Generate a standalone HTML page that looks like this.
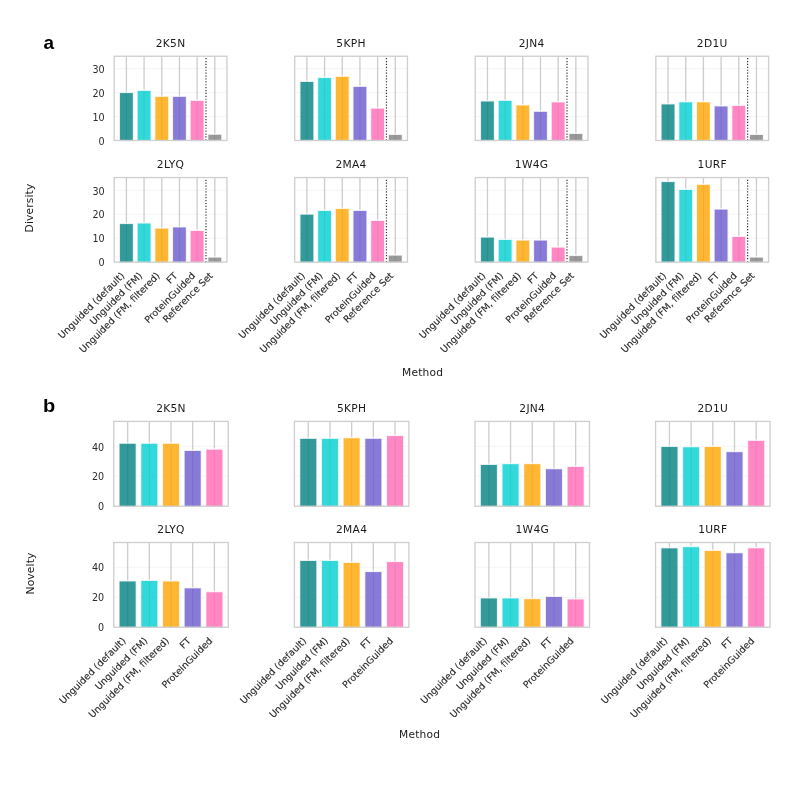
<!DOCTYPE html>
<html lang="en">
<head>
<meta charset="utf-8">
<title>Diversity and Novelty by Method</title>
<style>
html, body { margin: 0; padding: 0; background: #ffffff; }
body { width: 793px; height: 793px; overflow: hidden; }
svg { display: block; font-family: "DejaVu Sans", "Liberation Sans", sans-serif; }
</style>
</head>
<body>
<svg width="793" height="793" viewBox="0 0 793 793">
<rect x="0" y="0" width="793" height="793" fill="#ffffff"/>
<g><line x1="114.20" x2="226.95" y1="116.55" y2="116.55" stroke="#f5f5f5" stroke-width="1"/>
<line x1="114.20" x2="226.95" y1="92.65" y2="92.65" stroke="#f5f5f5" stroke-width="1"/>
<line x1="114.20" x2="226.95" y1="68.75" y2="68.75" stroke="#f5f5f5" stroke-width="1"/>
<line x1="126.40" x2="126.40" y1="56.25" y2="140.45" stroke="#cdcdcd" stroke-width="1.33"/>
<line x1="144.08" x2="144.08" y1="56.25" y2="140.45" stroke="#cdcdcd" stroke-width="1.33"/>
<line x1="161.76" x2="161.76" y1="56.25" y2="140.45" stroke="#cdcdcd" stroke-width="1.33"/>
<line x1="179.44" x2="179.44" y1="56.25" y2="140.45" stroke="#cdcdcd" stroke-width="1.33"/>
<line x1="197.12" x2="197.12" y1="56.25" y2="140.45" stroke="#cdcdcd" stroke-width="1.33"/>
<line x1="214.80" x2="214.80" y1="56.25" y2="140.45" stroke="#cdcdcd" stroke-width="1.33"/>
<rect x="119.33" y="92.40" width="14.14" height="48.75" fill="#008080" fill-opacity="0.8" stroke="#fff" stroke-opacity="0.8" stroke-width="1.4"/>
<rect x="137.01" y="90.30" width="14.14" height="50.85" fill="#00CED1" fill-opacity="0.8" stroke="#fff" stroke-opacity="0.8" stroke-width="1.4"/>
<rect x="154.69" y="96.20" width="14.14" height="44.95" fill="#FFA500" fill-opacity="0.8" stroke="#fff" stroke-opacity="0.8" stroke-width="1.4"/>
<rect x="172.37" y="96.20" width="14.14" height="44.95" fill="#6A5ACD" fill-opacity="0.8" stroke="#fff" stroke-opacity="0.8" stroke-width="1.4"/>
<rect x="190.05" y="100.20" width="14.14" height="40.95" fill="#FF69B4" fill-opacity="0.8" stroke="#fff" stroke-opacity="0.8" stroke-width="1.4"/>
<rect x="207.73" y="134.10" width="14.14" height="7.05" fill="#808080" fill-opacity="0.8" stroke="#fff" stroke-opacity="0.8" stroke-width="1.4"/>
<line x1="205.96" x2="205.96" y1="140.45" y2="56.25" stroke="#000" stroke-opacity="0.8" stroke-width="1.2" stroke-dasharray="1.2 1.7"/>
<rect x="114.20" y="56.25" width="112.75" height="84.20" fill="none" stroke="#cfcfcf" stroke-width="1.33"/>
<text x="170.57" y="46.65" text-anchor="middle" letter-spacing="0.3" font-size="10.67" fill="#1a1a1a">2K5N</text>
<text x="104.60" y="144.60" text-anchor="end" font-size="9.6" fill="#2b2b2b">0</text>
<text x="104.60" y="120.70" text-anchor="end" font-size="9.6" fill="#2b2b2b">10</text>
<text x="104.60" y="96.80" text-anchor="end" font-size="9.6" fill="#2b2b2b">20</text>
<text x="104.60" y="72.90" text-anchor="end" font-size="9.6" fill="#2b2b2b">30</text></g>
<g><line x1="294.70" x2="407.45" y1="116.55" y2="116.55" stroke="#f5f5f5" stroke-width="1"/>
<line x1="294.70" x2="407.45" y1="92.65" y2="92.65" stroke="#f5f5f5" stroke-width="1"/>
<line x1="294.70" x2="407.45" y1="68.75" y2="68.75" stroke="#f5f5f5" stroke-width="1"/>
<line x1="306.90" x2="306.90" y1="56.25" y2="140.45" stroke="#cdcdcd" stroke-width="1.33"/>
<line x1="324.58" x2="324.58" y1="56.25" y2="140.45" stroke="#cdcdcd" stroke-width="1.33"/>
<line x1="342.26" x2="342.26" y1="56.25" y2="140.45" stroke="#cdcdcd" stroke-width="1.33"/>
<line x1="359.94" x2="359.94" y1="56.25" y2="140.45" stroke="#cdcdcd" stroke-width="1.33"/>
<line x1="377.62" x2="377.62" y1="56.25" y2="140.45" stroke="#cdcdcd" stroke-width="1.33"/>
<line x1="395.30" x2="395.30" y1="56.25" y2="140.45" stroke="#cdcdcd" stroke-width="1.33"/>
<rect x="299.83" y="81.30" width="14.14" height="59.85" fill="#008080" fill-opacity="0.8" stroke="#fff" stroke-opacity="0.8" stroke-width="1.4"/>
<rect x="317.51" y="77.35" width="14.14" height="63.80" fill="#00CED1" fill-opacity="0.8" stroke="#fff" stroke-opacity="0.8" stroke-width="1.4"/>
<rect x="335.19" y="76.20" width="14.14" height="64.95" fill="#FFA500" fill-opacity="0.8" stroke="#fff" stroke-opacity="0.8" stroke-width="1.4"/>
<rect x="352.87" y="86.27" width="14.14" height="54.88" fill="#6A5ACD" fill-opacity="0.8" stroke="#fff" stroke-opacity="0.8" stroke-width="1.4"/>
<rect x="370.55" y="108.00" width="14.14" height="33.15" fill="#FF69B4" fill-opacity="0.8" stroke="#fff" stroke-opacity="0.8" stroke-width="1.4"/>
<rect x="388.23" y="134.30" width="14.14" height="6.85" fill="#808080" fill-opacity="0.8" stroke="#fff" stroke-opacity="0.8" stroke-width="1.4"/>
<line x1="386.46" x2="386.46" y1="140.45" y2="56.25" stroke="#000" stroke-opacity="0.8" stroke-width="1.2" stroke-dasharray="1.2 1.7"/>
<rect x="294.70" y="56.25" width="112.75" height="84.20" fill="none" stroke="#cfcfcf" stroke-width="1.33"/>
<text x="351.07" y="46.65" text-anchor="middle" letter-spacing="0.3" font-size="10.67" fill="#1a1a1a">5KPH</text></g>
<g><line x1="475.25" x2="588.00" y1="116.55" y2="116.55" stroke="#f5f5f5" stroke-width="1"/>
<line x1="475.25" x2="588.00" y1="92.65" y2="92.65" stroke="#f5f5f5" stroke-width="1"/>
<line x1="475.25" x2="588.00" y1="68.75" y2="68.75" stroke="#f5f5f5" stroke-width="1"/>
<line x1="487.45" x2="487.45" y1="56.25" y2="140.45" stroke="#cdcdcd" stroke-width="1.33"/>
<line x1="505.13" x2="505.13" y1="56.25" y2="140.45" stroke="#cdcdcd" stroke-width="1.33"/>
<line x1="522.81" x2="522.81" y1="56.25" y2="140.45" stroke="#cdcdcd" stroke-width="1.33"/>
<line x1="540.49" x2="540.49" y1="56.25" y2="140.45" stroke="#cdcdcd" stroke-width="1.33"/>
<line x1="558.17" x2="558.17" y1="56.25" y2="140.45" stroke="#cdcdcd" stroke-width="1.33"/>
<line x1="575.85" x2="575.85" y1="56.25" y2="140.45" stroke="#cdcdcd" stroke-width="1.33"/>
<rect x="480.38" y="100.86" width="14.14" height="40.29" fill="#008080" fill-opacity="0.8" stroke="#fff" stroke-opacity="0.8" stroke-width="1.4"/>
<rect x="498.06" y="100.20" width="14.14" height="40.95" fill="#00CED1" fill-opacity="0.8" stroke="#fff" stroke-opacity="0.8" stroke-width="1.4"/>
<rect x="515.74" y="104.80" width="14.14" height="36.35" fill="#FFA500" fill-opacity="0.8" stroke="#fff" stroke-opacity="0.8" stroke-width="1.4"/>
<rect x="533.42" y="111.20" width="14.14" height="29.95" fill="#6A5ACD" fill-opacity="0.8" stroke="#fff" stroke-opacity="0.8" stroke-width="1.4"/>
<rect x="551.10" y="101.80" width="14.14" height="39.35" fill="#FF69B4" fill-opacity="0.8" stroke="#fff" stroke-opacity="0.8" stroke-width="1.4"/>
<rect x="568.78" y="133.30" width="14.14" height="7.85" fill="#808080" fill-opacity="0.8" stroke="#fff" stroke-opacity="0.8" stroke-width="1.4"/>
<line x1="567.01" x2="567.01" y1="140.45" y2="56.25" stroke="#000" stroke-opacity="0.8" stroke-width="1.2" stroke-dasharray="1.2 1.7"/>
<rect x="475.25" y="56.25" width="112.75" height="84.20" fill="none" stroke="#cfcfcf" stroke-width="1.33"/>
<text x="531.62" y="46.65" text-anchor="middle" letter-spacing="0.3" font-size="10.67" fill="#1a1a1a">2JN4</text></g>
<g><line x1="655.85" x2="768.60" y1="116.55" y2="116.55" stroke="#f5f5f5" stroke-width="1"/>
<line x1="655.85" x2="768.60" y1="92.65" y2="92.65" stroke="#f5f5f5" stroke-width="1"/>
<line x1="655.85" x2="768.60" y1="68.75" y2="68.75" stroke="#f5f5f5" stroke-width="1"/>
<line x1="668.05" x2="668.05" y1="56.25" y2="140.45" stroke="#cdcdcd" stroke-width="1.33"/>
<line x1="685.73" x2="685.73" y1="56.25" y2="140.45" stroke="#cdcdcd" stroke-width="1.33"/>
<line x1="703.41" x2="703.41" y1="56.25" y2="140.45" stroke="#cdcdcd" stroke-width="1.33"/>
<line x1="721.09" x2="721.09" y1="56.25" y2="140.45" stroke="#cdcdcd" stroke-width="1.33"/>
<line x1="738.77" x2="738.77" y1="56.25" y2="140.45" stroke="#cdcdcd" stroke-width="1.33"/>
<line x1="756.45" x2="756.45" y1="56.25" y2="140.45" stroke="#cdcdcd" stroke-width="1.33"/>
<rect x="660.98" y="103.80" width="14.14" height="37.35" fill="#008080" fill-opacity="0.8" stroke="#fff" stroke-opacity="0.8" stroke-width="1.4"/>
<rect x="678.66" y="101.70" width="14.14" height="39.45" fill="#00CED1" fill-opacity="0.8" stroke="#fff" stroke-opacity="0.8" stroke-width="1.4"/>
<rect x="696.34" y="101.70" width="14.14" height="39.45" fill="#FFA500" fill-opacity="0.8" stroke="#fff" stroke-opacity="0.8" stroke-width="1.4"/>
<rect x="714.02" y="105.80" width="14.14" height="35.35" fill="#6A5ACD" fill-opacity="0.8" stroke="#fff" stroke-opacity="0.8" stroke-width="1.4"/>
<rect x="731.70" y="105.30" width="14.14" height="35.85" fill="#FF69B4" fill-opacity="0.8" stroke="#fff" stroke-opacity="0.8" stroke-width="1.4"/>
<rect x="749.38" y="134.30" width="14.14" height="6.85" fill="#808080" fill-opacity="0.8" stroke="#fff" stroke-opacity="0.8" stroke-width="1.4"/>
<line x1="747.61" x2="747.61" y1="140.45" y2="56.25" stroke="#000" stroke-opacity="0.8" stroke-width="1.2" stroke-dasharray="1.2 1.7"/>
<rect x="655.85" y="56.25" width="112.75" height="84.20" fill="none" stroke="#cfcfcf" stroke-width="1.33"/>
<text x="712.23" y="46.65" text-anchor="middle" letter-spacing="0.3" font-size="10.67" fill="#1a1a1a">2D1U</text></g>
<g><line x1="114.20" x2="226.95" y1="238.20" y2="238.20" stroke="#f5f5f5" stroke-width="1"/>
<line x1="114.20" x2="226.95" y1="214.30" y2="214.30" stroke="#f5f5f5" stroke-width="1"/>
<line x1="114.20" x2="226.95" y1="190.40" y2="190.40" stroke="#f5f5f5" stroke-width="1"/>
<line x1="126.40" x2="126.40" y1="177.55" y2="262.10" stroke="#cdcdcd" stroke-width="1.33"/>
<line x1="144.08" x2="144.08" y1="177.55" y2="262.10" stroke="#cdcdcd" stroke-width="1.33"/>
<line x1="161.76" x2="161.76" y1="177.55" y2="262.10" stroke="#cdcdcd" stroke-width="1.33"/>
<line x1="179.44" x2="179.44" y1="177.55" y2="262.10" stroke="#cdcdcd" stroke-width="1.33"/>
<line x1="197.12" x2="197.12" y1="177.55" y2="262.10" stroke="#cdcdcd" stroke-width="1.33"/>
<line x1="214.80" x2="214.80" y1="177.55" y2="262.10" stroke="#cdcdcd" stroke-width="1.33"/>
<rect x="119.33" y="223.40" width="14.14" height="39.40" fill="#008080" fill-opacity="0.8" stroke="#fff" stroke-opacity="0.8" stroke-width="1.4"/>
<rect x="137.01" y="222.90" width="14.14" height="39.90" fill="#00CED1" fill-opacity="0.8" stroke="#fff" stroke-opacity="0.8" stroke-width="1.4"/>
<rect x="154.69" y="228.00" width="14.14" height="34.80" fill="#FFA500" fill-opacity="0.8" stroke="#fff" stroke-opacity="0.8" stroke-width="1.4"/>
<rect x="172.37" y="226.80" width="14.14" height="36.00" fill="#6A5ACD" fill-opacity="0.8" stroke="#fff" stroke-opacity="0.8" stroke-width="1.4"/>
<rect x="190.05" y="230.30" width="14.14" height="32.50" fill="#FF69B4" fill-opacity="0.8" stroke="#fff" stroke-opacity="0.8" stroke-width="1.4"/>
<rect x="207.73" y="257.00" width="14.14" height="5.80" fill="#808080" fill-opacity="0.8" stroke="#fff" stroke-opacity="0.8" stroke-width="1.4"/>
<line x1="205.96" x2="205.96" y1="262.10" y2="177.55" stroke="#000" stroke-opacity="0.8" stroke-width="1.2" stroke-dasharray="1.2 1.7"/>
<rect x="114.20" y="177.55" width="112.75" height="84.55" fill="none" stroke="#cfcfcf" stroke-width="1.33"/>
<text x="170.57" y="167.95" text-anchor="middle" letter-spacing="0.3" font-size="10.67" fill="#1a1a1a">2LYQ</text>
<text x="104.60" y="266.25" text-anchor="end" font-size="9.6" fill="#2b2b2b">0</text>
<text x="104.60" y="242.35" text-anchor="end" font-size="9.6" fill="#2b2b2b">10</text>
<text x="104.60" y="218.45" text-anchor="end" font-size="9.6" fill="#2b2b2b">20</text>
<text x="104.60" y="194.55" text-anchor="end" font-size="9.6" fill="#2b2b2b">30</text>
<text transform="translate(125.10 276.30) rotate(-45)" text-anchor="end" font-size="9.47" fill="#2b2b2b" stroke="#2b2b2b" stroke-width="0.12">Unguided (default)</text>
<text transform="translate(142.78 276.30) rotate(-45)" text-anchor="end" font-size="9.47" fill="#2b2b2b" stroke="#2b2b2b" stroke-width="0.12">Unguided (FM)</text>
<text transform="translate(160.46 276.30) rotate(-45)" text-anchor="end" font-size="9.47" fill="#2b2b2b" stroke="#2b2b2b" stroke-width="0.12">Unguided (FM, filtered)</text>
<text transform="translate(178.14 276.30) rotate(-45)" text-anchor="end" font-size="9.47" fill="#2b2b2b" stroke="#2b2b2b" stroke-width="0.12">FT</text>
<text transform="translate(195.82 276.30) rotate(-45)" text-anchor="end" font-size="9.47" fill="#2b2b2b" stroke="#2b2b2b" stroke-width="0.12">ProteinGuided</text>
<text transform="translate(213.50 276.30) rotate(-45)" text-anchor="end" font-size="9.47" fill="#2b2b2b" stroke="#2b2b2b" stroke-width="0.12">Reference Set</text></g>
<g><line x1="294.70" x2="407.45" y1="238.20" y2="238.20" stroke="#f5f5f5" stroke-width="1"/>
<line x1="294.70" x2="407.45" y1="214.30" y2="214.30" stroke="#f5f5f5" stroke-width="1"/>
<line x1="294.70" x2="407.45" y1="190.40" y2="190.40" stroke="#f5f5f5" stroke-width="1"/>
<line x1="306.90" x2="306.90" y1="177.55" y2="262.10" stroke="#cdcdcd" stroke-width="1.33"/>
<line x1="324.58" x2="324.58" y1="177.55" y2="262.10" stroke="#cdcdcd" stroke-width="1.33"/>
<line x1="342.26" x2="342.26" y1="177.55" y2="262.10" stroke="#cdcdcd" stroke-width="1.33"/>
<line x1="359.94" x2="359.94" y1="177.55" y2="262.10" stroke="#cdcdcd" stroke-width="1.33"/>
<line x1="377.62" x2="377.62" y1="177.55" y2="262.10" stroke="#cdcdcd" stroke-width="1.33"/>
<line x1="395.30" x2="395.30" y1="177.55" y2="262.10" stroke="#cdcdcd" stroke-width="1.33"/>
<rect x="299.83" y="214.05" width="14.14" height="48.75" fill="#008080" fill-opacity="0.8" stroke="#fff" stroke-opacity="0.8" stroke-width="1.4"/>
<rect x="317.51" y="210.30" width="14.14" height="52.50" fill="#00CED1" fill-opacity="0.8" stroke="#fff" stroke-opacity="0.8" stroke-width="1.4"/>
<rect x="335.19" y="208.30" width="14.14" height="54.50" fill="#FFA500" fill-opacity="0.8" stroke="#fff" stroke-opacity="0.8" stroke-width="1.4"/>
<rect x="352.87" y="210.30" width="14.14" height="52.50" fill="#6A5ACD" fill-opacity="0.8" stroke="#fff" stroke-opacity="0.8" stroke-width="1.4"/>
<rect x="370.55" y="220.30" width="14.14" height="42.50" fill="#FF69B4" fill-opacity="0.8" stroke="#fff" stroke-opacity="0.8" stroke-width="1.4"/>
<rect x="388.23" y="255.00" width="14.14" height="7.80" fill="#808080" fill-opacity="0.8" stroke="#fff" stroke-opacity="0.8" stroke-width="1.4"/>
<line x1="386.46" x2="386.46" y1="262.10" y2="177.55" stroke="#000" stroke-opacity="0.8" stroke-width="1.2" stroke-dasharray="1.2 1.7"/>
<rect x="294.70" y="177.55" width="112.75" height="84.55" fill="none" stroke="#cfcfcf" stroke-width="1.33"/>
<text x="351.07" y="167.95" text-anchor="middle" letter-spacing="0.3" font-size="10.67" fill="#1a1a1a">2MA4</text>
<text transform="translate(305.60 276.30) rotate(-45)" text-anchor="end" font-size="9.47" fill="#2b2b2b" stroke="#2b2b2b" stroke-width="0.12">Unguided (default)</text>
<text transform="translate(323.28 276.30) rotate(-45)" text-anchor="end" font-size="9.47" fill="#2b2b2b" stroke="#2b2b2b" stroke-width="0.12">Unguided (FM)</text>
<text transform="translate(340.96 276.30) rotate(-45)" text-anchor="end" font-size="9.47" fill="#2b2b2b" stroke="#2b2b2b" stroke-width="0.12">Unguided (FM, filtered)</text>
<text transform="translate(358.64 276.30) rotate(-45)" text-anchor="end" font-size="9.47" fill="#2b2b2b" stroke="#2b2b2b" stroke-width="0.12">FT</text>
<text transform="translate(376.32 276.30) rotate(-45)" text-anchor="end" font-size="9.47" fill="#2b2b2b" stroke="#2b2b2b" stroke-width="0.12">ProteinGuided</text>
<text transform="translate(394.00 276.30) rotate(-45)" text-anchor="end" font-size="9.47" fill="#2b2b2b" stroke="#2b2b2b" stroke-width="0.12">Reference Set</text></g>
<g><line x1="475.25" x2="588.00" y1="238.20" y2="238.20" stroke="#f5f5f5" stroke-width="1"/>
<line x1="475.25" x2="588.00" y1="214.30" y2="214.30" stroke="#f5f5f5" stroke-width="1"/>
<line x1="475.25" x2="588.00" y1="190.40" y2="190.40" stroke="#f5f5f5" stroke-width="1"/>
<line x1="487.45" x2="487.45" y1="177.55" y2="262.10" stroke="#cdcdcd" stroke-width="1.33"/>
<line x1="505.13" x2="505.13" y1="177.55" y2="262.10" stroke="#cdcdcd" stroke-width="1.33"/>
<line x1="522.81" x2="522.81" y1="177.55" y2="262.10" stroke="#cdcdcd" stroke-width="1.33"/>
<line x1="540.49" x2="540.49" y1="177.55" y2="262.10" stroke="#cdcdcd" stroke-width="1.33"/>
<line x1="558.17" x2="558.17" y1="177.55" y2="262.10" stroke="#cdcdcd" stroke-width="1.33"/>
<line x1="575.85" x2="575.85" y1="177.55" y2="262.10" stroke="#cdcdcd" stroke-width="1.33"/>
<rect x="480.38" y="237.00" width="14.14" height="25.80" fill="#008080" fill-opacity="0.8" stroke="#fff" stroke-opacity="0.8" stroke-width="1.4"/>
<rect x="498.06" y="239.30" width="14.14" height="23.50" fill="#00CED1" fill-opacity="0.8" stroke="#fff" stroke-opacity="0.8" stroke-width="1.4"/>
<rect x="515.74" y="239.96" width="14.14" height="22.84" fill="#FFA500" fill-opacity="0.8" stroke="#fff" stroke-opacity="0.8" stroke-width="1.4"/>
<rect x="533.42" y="239.96" width="14.14" height="22.84" fill="#6A5ACD" fill-opacity="0.8" stroke="#fff" stroke-opacity="0.8" stroke-width="1.4"/>
<rect x="551.10" y="247.00" width="14.14" height="15.80" fill="#FF69B4" fill-opacity="0.8" stroke="#fff" stroke-opacity="0.8" stroke-width="1.4"/>
<rect x="568.78" y="255.37" width="14.14" height="7.43" fill="#808080" fill-opacity="0.8" stroke="#fff" stroke-opacity="0.8" stroke-width="1.4"/>
<line x1="567.01" x2="567.01" y1="262.10" y2="177.55" stroke="#000" stroke-opacity="0.8" stroke-width="1.2" stroke-dasharray="1.2 1.7"/>
<rect x="475.25" y="177.55" width="112.75" height="84.55" fill="none" stroke="#cfcfcf" stroke-width="1.33"/>
<text x="531.62" y="167.95" text-anchor="middle" letter-spacing="0.3" font-size="10.67" fill="#1a1a1a">1W4G</text>
<text transform="translate(486.15 276.30) rotate(-45)" text-anchor="end" font-size="9.47" fill="#2b2b2b" stroke="#2b2b2b" stroke-width="0.12">Unguided (default)</text>
<text transform="translate(503.83 276.30) rotate(-45)" text-anchor="end" font-size="9.47" fill="#2b2b2b" stroke="#2b2b2b" stroke-width="0.12">Unguided (FM)</text>
<text transform="translate(521.51 276.30) rotate(-45)" text-anchor="end" font-size="9.47" fill="#2b2b2b" stroke="#2b2b2b" stroke-width="0.12">Unguided (FM, filtered)</text>
<text transform="translate(539.19 276.30) rotate(-45)" text-anchor="end" font-size="9.47" fill="#2b2b2b" stroke="#2b2b2b" stroke-width="0.12">FT</text>
<text transform="translate(556.87 276.30) rotate(-45)" text-anchor="end" font-size="9.47" fill="#2b2b2b" stroke="#2b2b2b" stroke-width="0.12">ProteinGuided</text>
<text transform="translate(574.55 276.30) rotate(-45)" text-anchor="end" font-size="9.47" fill="#2b2b2b" stroke="#2b2b2b" stroke-width="0.12">Reference Set</text></g>
<g><line x1="655.85" x2="768.60" y1="238.20" y2="238.20" stroke="#f5f5f5" stroke-width="1"/>
<line x1="655.85" x2="768.60" y1="214.30" y2="214.30" stroke="#f5f5f5" stroke-width="1"/>
<line x1="655.85" x2="768.60" y1="190.40" y2="190.40" stroke="#f5f5f5" stroke-width="1"/>
<line x1="668.05" x2="668.05" y1="177.55" y2="262.10" stroke="#cdcdcd" stroke-width="1.33"/>
<line x1="685.73" x2="685.73" y1="177.55" y2="262.10" stroke="#cdcdcd" stroke-width="1.33"/>
<line x1="703.41" x2="703.41" y1="177.55" y2="262.10" stroke="#cdcdcd" stroke-width="1.33"/>
<line x1="721.09" x2="721.09" y1="177.55" y2="262.10" stroke="#cdcdcd" stroke-width="1.33"/>
<line x1="738.77" x2="738.77" y1="177.55" y2="262.10" stroke="#cdcdcd" stroke-width="1.33"/>
<line x1="756.45" x2="756.45" y1="177.55" y2="262.10" stroke="#cdcdcd" stroke-width="1.33"/>
<rect x="660.98" y="181.40" width="14.14" height="81.40" fill="#008080" fill-opacity="0.8" stroke="#fff" stroke-opacity="0.8" stroke-width="1.4"/>
<rect x="678.66" y="189.30" width="14.14" height="73.50" fill="#00CED1" fill-opacity="0.8" stroke="#fff" stroke-opacity="0.8" stroke-width="1.4"/>
<rect x="696.34" y="184.20" width="14.14" height="78.60" fill="#FFA500" fill-opacity="0.8" stroke="#fff" stroke-opacity="0.8" stroke-width="1.4"/>
<rect x="714.02" y="209.00" width="14.14" height="53.80" fill="#6A5ACD" fill-opacity="0.8" stroke="#fff" stroke-opacity="0.8" stroke-width="1.4"/>
<rect x="731.70" y="236.30" width="14.14" height="26.50" fill="#FF69B4" fill-opacity="0.8" stroke="#fff" stroke-opacity="0.8" stroke-width="1.4"/>
<rect x="749.38" y="257.00" width="14.14" height="5.80" fill="#808080" fill-opacity="0.8" stroke="#fff" stroke-opacity="0.8" stroke-width="1.4"/>
<line x1="747.61" x2="747.61" y1="262.10" y2="177.55" stroke="#000" stroke-opacity="0.8" stroke-width="1.2" stroke-dasharray="1.2 1.7"/>
<rect x="655.85" y="177.55" width="112.75" height="84.55" fill="none" stroke="#cfcfcf" stroke-width="1.33"/>
<text x="712.23" y="167.95" text-anchor="middle" letter-spacing="0.3" font-size="10.67" fill="#1a1a1a">1URF</text>
<text transform="translate(666.75 276.30) rotate(-45)" text-anchor="end" font-size="9.47" fill="#2b2b2b" stroke="#2b2b2b" stroke-width="0.12">Unguided (default)</text>
<text transform="translate(684.43 276.30) rotate(-45)" text-anchor="end" font-size="9.47" fill="#2b2b2b" stroke="#2b2b2b" stroke-width="0.12">Unguided (FM)</text>
<text transform="translate(702.11 276.30) rotate(-45)" text-anchor="end" font-size="9.47" fill="#2b2b2b" stroke="#2b2b2b" stroke-width="0.12">Unguided (FM, filtered)</text>
<text transform="translate(719.79 276.30) rotate(-45)" text-anchor="end" font-size="9.47" fill="#2b2b2b" stroke="#2b2b2b" stroke-width="0.12">FT</text>
<text transform="translate(737.47 276.30) rotate(-45)" text-anchor="end" font-size="9.47" fill="#2b2b2b" stroke="#2b2b2b" stroke-width="0.12">ProteinGuided</text>
<text transform="translate(755.15 276.30) rotate(-45)" text-anchor="end" font-size="9.47" fill="#2b2b2b" stroke="#2b2b2b" stroke-width="0.12">Reference Set</text></g>
<text transform="translate(33.3 208.0) rotate(-90)" text-anchor="middle" letter-spacing="0.15" font-size="10.67" fill="#1a1a1a">Diversity</text>
<text x="422.6" y="376.35" text-anchor="middle" letter-spacing="0.2" font-size="10.67" fill="#1a1a1a">Method</text>
<text transform="translate(43.4 49.0) scale(1.07 1)" font-family='"Liberation Sans", "DejaVu Sans", sans-serif' font-weight="bold" font-size="17.7" fill="#000">a</text>
<g><line x1="113.75" x2="228.25" y1="476.31" y2="476.31" stroke="#f5f5f5" stroke-width="1"/>
<line x1="113.75" x2="228.25" y1="446.37" y2="446.37" stroke="#f5f5f5" stroke-width="1"/>
<line x1="127.63" x2="127.63" y1="421.40" y2="506.25" stroke="#cdcdcd" stroke-width="1.33"/>
<line x1="149.32" x2="149.32" y1="421.40" y2="506.25" stroke="#cdcdcd" stroke-width="1.33"/>
<line x1="171.01" x2="171.01" y1="421.40" y2="506.25" stroke="#cdcdcd" stroke-width="1.33"/>
<line x1="192.70" x2="192.70" y1="421.40" y2="506.25" stroke="#cdcdcd" stroke-width="1.33"/>
<line x1="214.39" x2="214.39" y1="421.40" y2="506.25" stroke="#cdcdcd" stroke-width="1.33"/>
<rect x="118.95" y="443.15" width="17.35" height="63.80" fill="#008080" fill-opacity="0.8" stroke="#fff" stroke-opacity="0.8" stroke-width="1.4"/>
<rect x="140.64" y="443.15" width="17.35" height="63.80" fill="#00CED1" fill-opacity="0.8" stroke="#fff" stroke-opacity="0.8" stroke-width="1.4"/>
<rect x="162.33" y="443.15" width="17.35" height="63.80" fill="#FFA500" fill-opacity="0.8" stroke="#fff" stroke-opacity="0.8" stroke-width="1.4"/>
<rect x="184.02" y="450.30" width="17.35" height="56.65" fill="#6A5ACD" fill-opacity="0.8" stroke="#fff" stroke-opacity="0.8" stroke-width="1.4"/>
<rect x="205.71" y="449.05" width="17.35" height="57.90" fill="#FF69B4" fill-opacity="0.8" stroke="#fff" stroke-opacity="0.8" stroke-width="1.4"/>
<rect x="113.75" y="421.40" width="114.50" height="84.85" fill="none" stroke="#cfcfcf" stroke-width="1.33"/>
<text x="171.00" y="411.80" text-anchor="middle" letter-spacing="0.3" font-size="10.67" fill="#1a1a1a">2K5N</text>
<text x="104.15" y="510.40" text-anchor="end" font-size="9.6" fill="#2b2b2b">0</text>
<text x="104.15" y="480.46" text-anchor="end" font-size="9.6" fill="#2b2b2b">20</text>
<text x="104.15" y="450.52" text-anchor="end" font-size="9.6" fill="#2b2b2b">40</text></g>
<g><line x1="294.40" x2="408.90" y1="476.31" y2="476.31" stroke="#f5f5f5" stroke-width="1"/>
<line x1="294.40" x2="408.90" y1="446.37" y2="446.37" stroke="#f5f5f5" stroke-width="1"/>
<line x1="308.28" x2="308.28" y1="421.40" y2="506.25" stroke="#cdcdcd" stroke-width="1.33"/>
<line x1="329.97" x2="329.97" y1="421.40" y2="506.25" stroke="#cdcdcd" stroke-width="1.33"/>
<line x1="351.66" x2="351.66" y1="421.40" y2="506.25" stroke="#cdcdcd" stroke-width="1.33"/>
<line x1="373.35" x2="373.35" y1="421.40" y2="506.25" stroke="#cdcdcd" stroke-width="1.33"/>
<line x1="395.04" x2="395.04" y1="421.40" y2="506.25" stroke="#cdcdcd" stroke-width="1.33"/>
<rect x="299.60" y="438.20" width="17.35" height="68.75" fill="#008080" fill-opacity="0.8" stroke="#fff" stroke-opacity="0.8" stroke-width="1.4"/>
<rect x="321.29" y="438.20" width="17.35" height="68.75" fill="#00CED1" fill-opacity="0.8" stroke="#fff" stroke-opacity="0.8" stroke-width="1.4"/>
<rect x="342.98" y="437.60" width="17.35" height="69.35" fill="#FFA500" fill-opacity="0.8" stroke="#fff" stroke-opacity="0.8" stroke-width="1.4"/>
<rect x="364.67" y="438.20" width="17.35" height="68.75" fill="#6A5ACD" fill-opacity="0.8" stroke="#fff" stroke-opacity="0.8" stroke-width="1.4"/>
<rect x="386.36" y="435.40" width="17.35" height="71.55" fill="#FF69B4" fill-opacity="0.8" stroke="#fff" stroke-opacity="0.8" stroke-width="1.4"/>
<rect x="294.40" y="421.40" width="114.50" height="84.85" fill="none" stroke="#cfcfcf" stroke-width="1.33"/>
<text x="351.65" y="411.80" text-anchor="middle" letter-spacing="0.3" font-size="10.67" fill="#1a1a1a">5KPH</text></g>
<g><line x1="475.00" x2="589.50" y1="476.31" y2="476.31" stroke="#f5f5f5" stroke-width="1"/>
<line x1="475.00" x2="589.50" y1="446.37" y2="446.37" stroke="#f5f5f5" stroke-width="1"/>
<line x1="488.88" x2="488.88" y1="421.40" y2="506.25" stroke="#cdcdcd" stroke-width="1.33"/>
<line x1="510.57" x2="510.57" y1="421.40" y2="506.25" stroke="#cdcdcd" stroke-width="1.33"/>
<line x1="532.26" x2="532.26" y1="421.40" y2="506.25" stroke="#cdcdcd" stroke-width="1.33"/>
<line x1="553.95" x2="553.95" y1="421.40" y2="506.25" stroke="#cdcdcd" stroke-width="1.33"/>
<line x1="575.64" x2="575.64" y1="421.40" y2="506.25" stroke="#cdcdcd" stroke-width="1.33"/>
<rect x="480.20" y="464.30" width="17.35" height="42.65" fill="#008080" fill-opacity="0.8" stroke="#fff" stroke-opacity="0.8" stroke-width="1.4"/>
<rect x="501.89" y="463.50" width="17.35" height="43.45" fill="#00CED1" fill-opacity="0.8" stroke="#fff" stroke-opacity="0.8" stroke-width="1.4"/>
<rect x="523.59" y="463.50" width="17.35" height="43.45" fill="#FFA500" fill-opacity="0.8" stroke="#fff" stroke-opacity="0.8" stroke-width="1.4"/>
<rect x="545.28" y="468.60" width="17.35" height="38.35" fill="#6A5ACD" fill-opacity="0.8" stroke="#fff" stroke-opacity="0.8" stroke-width="1.4"/>
<rect x="566.97" y="466.30" width="17.35" height="40.65" fill="#FF69B4" fill-opacity="0.8" stroke="#fff" stroke-opacity="0.8" stroke-width="1.4"/>
<rect x="475.00" y="421.40" width="114.50" height="84.85" fill="none" stroke="#cfcfcf" stroke-width="1.33"/>
<text x="532.25" y="411.80" text-anchor="middle" letter-spacing="0.3" font-size="10.67" fill="#1a1a1a">2JN4</text></g>
<g><line x1="655.55" x2="770.05" y1="476.31" y2="476.31" stroke="#f5f5f5" stroke-width="1"/>
<line x1="655.55" x2="770.05" y1="446.37" y2="446.37" stroke="#f5f5f5" stroke-width="1"/>
<line x1="669.43" x2="669.43" y1="421.40" y2="506.25" stroke="#cdcdcd" stroke-width="1.33"/>
<line x1="691.12" x2="691.12" y1="421.40" y2="506.25" stroke="#cdcdcd" stroke-width="1.33"/>
<line x1="712.81" x2="712.81" y1="421.40" y2="506.25" stroke="#cdcdcd" stroke-width="1.33"/>
<line x1="734.50" x2="734.50" y1="421.40" y2="506.25" stroke="#cdcdcd" stroke-width="1.33"/>
<line x1="756.19" x2="756.19" y1="421.40" y2="506.25" stroke="#cdcdcd" stroke-width="1.33"/>
<rect x="660.75" y="446.30" width="17.35" height="60.65" fill="#008080" fill-opacity="0.8" stroke="#fff" stroke-opacity="0.8" stroke-width="1.4"/>
<rect x="682.45" y="446.60" width="17.35" height="60.35" fill="#00CED1" fill-opacity="0.8" stroke="#fff" stroke-opacity="0.8" stroke-width="1.4"/>
<rect x="704.13" y="446.30" width="17.35" height="60.65" fill="#FFA500" fill-opacity="0.8" stroke="#fff" stroke-opacity="0.8" stroke-width="1.4"/>
<rect x="725.83" y="451.50" width="17.35" height="55.45" fill="#6A5ACD" fill-opacity="0.8" stroke="#fff" stroke-opacity="0.8" stroke-width="1.4"/>
<rect x="747.51" y="440.20" width="17.35" height="66.75" fill="#FF69B4" fill-opacity="0.8" stroke="#fff" stroke-opacity="0.8" stroke-width="1.4"/>
<rect x="655.55" y="421.40" width="114.50" height="84.85" fill="none" stroke="#cfcfcf" stroke-width="1.33"/>
<text x="712.80" y="411.80" text-anchor="middle" letter-spacing="0.3" font-size="10.67" fill="#1a1a1a">2D1U</text></g>
<g><line x1="113.75" x2="228.25" y1="597.26" y2="597.26" stroke="#f5f5f5" stroke-width="1"/>
<line x1="113.75" x2="228.25" y1="567.32" y2="567.32" stroke="#f5f5f5" stroke-width="1"/>
<line x1="127.63" x2="127.63" y1="542.50" y2="627.20" stroke="#cdcdcd" stroke-width="1.33"/>
<line x1="149.32" x2="149.32" y1="542.50" y2="627.20" stroke="#cdcdcd" stroke-width="1.33"/>
<line x1="171.01" x2="171.01" y1="542.50" y2="627.20" stroke="#cdcdcd" stroke-width="1.33"/>
<line x1="192.70" x2="192.70" y1="542.50" y2="627.20" stroke="#cdcdcd" stroke-width="1.33"/>
<line x1="214.39" x2="214.39" y1="542.50" y2="627.20" stroke="#cdcdcd" stroke-width="1.33"/>
<rect x="118.95" y="580.80" width="17.35" height="47.10" fill="#008080" fill-opacity="0.8" stroke="#fff" stroke-opacity="0.8" stroke-width="1.4"/>
<rect x="140.64" y="580.30" width="17.35" height="47.60" fill="#00CED1" fill-opacity="0.8" stroke="#fff" stroke-opacity="0.8" stroke-width="1.4"/>
<rect x="162.33" y="580.80" width="17.35" height="47.10" fill="#FFA500" fill-opacity="0.8" stroke="#fff" stroke-opacity="0.8" stroke-width="1.4"/>
<rect x="184.02" y="587.70" width="17.35" height="40.20" fill="#6A5ACD" fill-opacity="0.8" stroke="#fff" stroke-opacity="0.8" stroke-width="1.4"/>
<rect x="205.71" y="591.60" width="17.35" height="36.30" fill="#FF69B4" fill-opacity="0.8" stroke="#fff" stroke-opacity="0.8" stroke-width="1.4"/>
<rect x="113.75" y="542.50" width="114.50" height="84.70" fill="none" stroke="#cfcfcf" stroke-width="1.33"/>
<text x="171.00" y="532.90" text-anchor="middle" letter-spacing="0.3" font-size="10.67" fill="#1a1a1a">2LYQ</text>
<text x="104.15" y="631.35" text-anchor="end" font-size="9.6" fill="#2b2b2b">0</text>
<text x="104.15" y="601.41" text-anchor="end" font-size="9.6" fill="#2b2b2b">20</text>
<text x="104.15" y="571.47" text-anchor="end" font-size="9.6" fill="#2b2b2b">40</text>
<text transform="translate(126.33 641.40) rotate(-45)" text-anchor="end" font-size="9.47" fill="#2b2b2b" stroke="#2b2b2b" stroke-width="0.12">Unguided (default)</text>
<text transform="translate(148.02 641.40) rotate(-45)" text-anchor="end" font-size="9.47" fill="#2b2b2b" stroke="#2b2b2b" stroke-width="0.12">Unguided (FM)</text>
<text transform="translate(169.71 641.40) rotate(-45)" text-anchor="end" font-size="9.47" fill="#2b2b2b" stroke="#2b2b2b" stroke-width="0.12">Unguided (FM, filtered)</text>
<text transform="translate(191.40 641.40) rotate(-45)" text-anchor="end" font-size="9.47" fill="#2b2b2b" stroke="#2b2b2b" stroke-width="0.12">FT</text>
<text transform="translate(213.09 641.40) rotate(-45)" text-anchor="end" font-size="9.47" fill="#2b2b2b" stroke="#2b2b2b" stroke-width="0.12">ProteinGuided</text></g>
<g><line x1="294.40" x2="408.90" y1="597.26" y2="597.26" stroke="#f5f5f5" stroke-width="1"/>
<line x1="294.40" x2="408.90" y1="567.32" y2="567.32" stroke="#f5f5f5" stroke-width="1"/>
<line x1="308.28" x2="308.28" y1="542.50" y2="627.20" stroke="#cdcdcd" stroke-width="1.33"/>
<line x1="329.97" x2="329.97" y1="542.50" y2="627.20" stroke="#cdcdcd" stroke-width="1.33"/>
<line x1="351.66" x2="351.66" y1="542.50" y2="627.20" stroke="#cdcdcd" stroke-width="1.33"/>
<line x1="373.35" x2="373.35" y1="542.50" y2="627.20" stroke="#cdcdcd" stroke-width="1.33"/>
<line x1="395.04" x2="395.04" y1="542.50" y2="627.20" stroke="#cdcdcd" stroke-width="1.33"/>
<rect x="299.60" y="560.30" width="17.35" height="67.60" fill="#008080" fill-opacity="0.8" stroke="#fff" stroke-opacity="0.8" stroke-width="1.4"/>
<rect x="321.29" y="560.30" width="17.35" height="67.60" fill="#00CED1" fill-opacity="0.8" stroke="#fff" stroke-opacity="0.8" stroke-width="1.4"/>
<rect x="342.98" y="562.30" width="17.35" height="65.60" fill="#FFA500" fill-opacity="0.8" stroke="#fff" stroke-opacity="0.8" stroke-width="1.4"/>
<rect x="364.67" y="571.40" width="17.35" height="56.50" fill="#6A5ACD" fill-opacity="0.8" stroke="#fff" stroke-opacity="0.8" stroke-width="1.4"/>
<rect x="386.36" y="561.40" width="17.35" height="66.50" fill="#FF69B4" fill-opacity="0.8" stroke="#fff" stroke-opacity="0.8" stroke-width="1.4"/>
<rect x="294.40" y="542.50" width="114.50" height="84.70" fill="none" stroke="#cfcfcf" stroke-width="1.33"/>
<text x="351.65" y="532.90" text-anchor="middle" letter-spacing="0.3" font-size="10.67" fill="#1a1a1a">2MA4</text>
<text transform="translate(306.98 641.40) rotate(-45)" text-anchor="end" font-size="9.47" fill="#2b2b2b" stroke="#2b2b2b" stroke-width="0.12">Unguided (default)</text>
<text transform="translate(328.67 641.40) rotate(-45)" text-anchor="end" font-size="9.47" fill="#2b2b2b" stroke="#2b2b2b" stroke-width="0.12">Unguided (FM)</text>
<text transform="translate(350.36 641.40) rotate(-45)" text-anchor="end" font-size="9.47" fill="#2b2b2b" stroke="#2b2b2b" stroke-width="0.12">Unguided (FM, filtered)</text>
<text transform="translate(372.05 641.40) rotate(-45)" text-anchor="end" font-size="9.47" fill="#2b2b2b" stroke="#2b2b2b" stroke-width="0.12">FT</text>
<text transform="translate(393.74 641.40) rotate(-45)" text-anchor="end" font-size="9.47" fill="#2b2b2b" stroke="#2b2b2b" stroke-width="0.12">ProteinGuided</text></g>
<g><line x1="475.00" x2="589.50" y1="597.26" y2="597.26" stroke="#f5f5f5" stroke-width="1"/>
<line x1="475.00" x2="589.50" y1="567.32" y2="567.32" stroke="#f5f5f5" stroke-width="1"/>
<line x1="488.88" x2="488.88" y1="542.50" y2="627.20" stroke="#cdcdcd" stroke-width="1.33"/>
<line x1="510.57" x2="510.57" y1="542.50" y2="627.20" stroke="#cdcdcd" stroke-width="1.33"/>
<line x1="532.26" x2="532.26" y1="542.50" y2="627.20" stroke="#cdcdcd" stroke-width="1.33"/>
<line x1="553.95" x2="553.95" y1="542.50" y2="627.20" stroke="#cdcdcd" stroke-width="1.33"/>
<line x1="575.64" x2="575.64" y1="542.50" y2="627.20" stroke="#cdcdcd" stroke-width="1.33"/>
<rect x="480.20" y="597.80" width="17.35" height="30.10" fill="#008080" fill-opacity="0.8" stroke="#fff" stroke-opacity="0.8" stroke-width="1.4"/>
<rect x="501.89" y="597.80" width="17.35" height="30.10" fill="#00CED1" fill-opacity="0.8" stroke="#fff" stroke-opacity="0.8" stroke-width="1.4"/>
<rect x="523.59" y="598.50" width="17.35" height="29.40" fill="#FFA500" fill-opacity="0.8" stroke="#fff" stroke-opacity="0.8" stroke-width="1.4"/>
<rect x="545.28" y="596.30" width="17.35" height="31.60" fill="#6A5ACD" fill-opacity="0.8" stroke="#fff" stroke-opacity="0.8" stroke-width="1.4"/>
<rect x="566.97" y="598.80" width="17.35" height="29.10" fill="#FF69B4" fill-opacity="0.8" stroke="#fff" stroke-opacity="0.8" stroke-width="1.4"/>
<rect x="475.00" y="542.50" width="114.50" height="84.70" fill="none" stroke="#cfcfcf" stroke-width="1.33"/>
<text x="532.25" y="532.90" text-anchor="middle" letter-spacing="0.3" font-size="10.67" fill="#1a1a1a">1W4G</text>
<text transform="translate(487.58 641.40) rotate(-45)" text-anchor="end" font-size="9.47" fill="#2b2b2b" stroke="#2b2b2b" stroke-width="0.12">Unguided (default)</text>
<text transform="translate(509.27 641.40) rotate(-45)" text-anchor="end" font-size="9.47" fill="#2b2b2b" stroke="#2b2b2b" stroke-width="0.12">Unguided (FM)</text>
<text transform="translate(530.96 641.40) rotate(-45)" text-anchor="end" font-size="9.47" fill="#2b2b2b" stroke="#2b2b2b" stroke-width="0.12">Unguided (FM, filtered)</text>
<text transform="translate(552.65 641.40) rotate(-45)" text-anchor="end" font-size="9.47" fill="#2b2b2b" stroke="#2b2b2b" stroke-width="0.12">FT</text>
<text transform="translate(574.34 641.40) rotate(-45)" text-anchor="end" font-size="9.47" fill="#2b2b2b" stroke="#2b2b2b" stroke-width="0.12">ProteinGuided</text></g>
<g><line x1="655.55" x2="770.05" y1="597.26" y2="597.26" stroke="#f5f5f5" stroke-width="1"/>
<line x1="655.55" x2="770.05" y1="567.32" y2="567.32" stroke="#f5f5f5" stroke-width="1"/>
<line x1="669.43" x2="669.43" y1="542.50" y2="627.20" stroke="#cdcdcd" stroke-width="1.33"/>
<line x1="691.12" x2="691.12" y1="542.50" y2="627.20" stroke="#cdcdcd" stroke-width="1.33"/>
<line x1="712.81" x2="712.81" y1="542.50" y2="627.20" stroke="#cdcdcd" stroke-width="1.33"/>
<line x1="734.50" x2="734.50" y1="542.50" y2="627.20" stroke="#cdcdcd" stroke-width="1.33"/>
<line x1="756.19" x2="756.19" y1="542.50" y2="627.20" stroke="#cdcdcd" stroke-width="1.33"/>
<rect x="660.75" y="547.70" width="17.35" height="80.20" fill="#008080" fill-opacity="0.8" stroke="#fff" stroke-opacity="0.8" stroke-width="1.4"/>
<rect x="682.45" y="546.50" width="17.35" height="81.40" fill="#00CED1" fill-opacity="0.8" stroke="#fff" stroke-opacity="0.8" stroke-width="1.4"/>
<rect x="704.13" y="550.30" width="17.35" height="77.60" fill="#FFA500" fill-opacity="0.8" stroke="#fff" stroke-opacity="0.8" stroke-width="1.4"/>
<rect x="725.83" y="552.60" width="17.35" height="75.30" fill="#6A5ACD" fill-opacity="0.8" stroke="#fff" stroke-opacity="0.8" stroke-width="1.4"/>
<rect x="747.51" y="547.70" width="17.35" height="80.20" fill="#FF69B4" fill-opacity="0.8" stroke="#fff" stroke-opacity="0.8" stroke-width="1.4"/>
<rect x="655.55" y="542.50" width="114.50" height="84.70" fill="none" stroke="#cfcfcf" stroke-width="1.33"/>
<text x="712.80" y="532.90" text-anchor="middle" letter-spacing="0.3" font-size="10.67" fill="#1a1a1a">1URF</text>
<text transform="translate(668.13 641.40) rotate(-45)" text-anchor="end" font-size="9.47" fill="#2b2b2b" stroke="#2b2b2b" stroke-width="0.12">Unguided (default)</text>
<text transform="translate(689.82 641.40) rotate(-45)" text-anchor="end" font-size="9.47" fill="#2b2b2b" stroke="#2b2b2b" stroke-width="0.12">Unguided (FM)</text>
<text transform="translate(711.51 641.40) rotate(-45)" text-anchor="end" font-size="9.47" fill="#2b2b2b" stroke="#2b2b2b" stroke-width="0.12">Unguided (FM, filtered)</text>
<text transform="translate(733.20 641.40) rotate(-45)" text-anchor="end" font-size="9.47" fill="#2b2b2b" stroke="#2b2b2b" stroke-width="0.12">FT</text>
<text transform="translate(754.89 641.40) rotate(-45)" text-anchor="end" font-size="9.47" fill="#2b2b2b" stroke="#2b2b2b" stroke-width="0.12">ProteinGuided</text></g>
<text transform="translate(34.3 573.5) rotate(-90)" text-anchor="middle" letter-spacing="0.15" font-size="10.67" fill="#1a1a1a">Novelty</text>
<text x="419.6" y="737.75" text-anchor="middle" letter-spacing="0.2" font-size="10.67" fill="#1a1a1a">Method</text>
<text transform="translate(43.1 412.0) scale(1.1 1)" font-family='"Liberation Sans", "DejaVu Sans", sans-serif' font-weight="bold" font-size="18.2" fill="#000">b</text>
</svg>
</body>
</html>
